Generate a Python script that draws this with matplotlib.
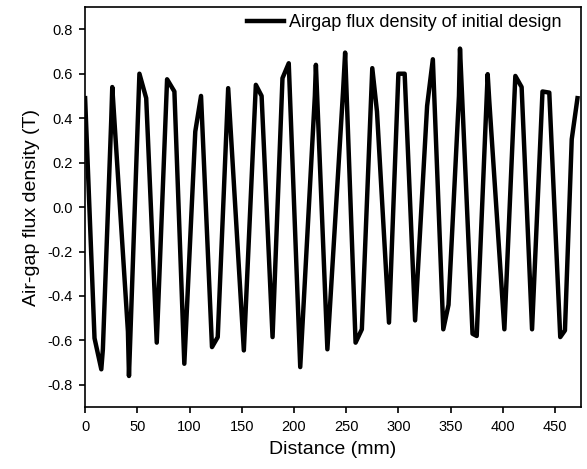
import numpy as np
import matplotlib
matplotlib.use("Agg")
import matplotlib.pyplot as plt

plt.rcParams['font.family'] = ['Liberation Sans', 'DejaVu Sans']

# Airgap flux density
distance = [0, 9, 15.5, 17, 25, 26, 41, 42, 52, 58.5, 68.6, 78.5, 85.5, 95,
            105.5, 111, 121.5, 127, 137, 152, 163.5, 169, 179.5, 189, 195,
            206, 220, 221, 232, 247, 249, 259, 265, 275, 279.5, 291, 300,
            306, 316, 327.5, 333, 343, 348, 358, 359, 371, 375, 385.5, 387,
            401.5, 412, 418, 428, 438, 444.5, 455, 459.5, 466, 471.5]
flux = [0.49, -0.59, -0.73, -0.64, 0.39, 0.54, -0.56, -0.76, 0.60, 0.49,
        -0.61, 0.575, 0.52, -0.705, 0.34, 0.50, -0.63, -0.585, 0.535,
        -0.645, 0.55, 0.50, -0.585, 0.58, 0.647, -0.72, 0.50, 0.64, -0.64,
        0.52, 0.695, -0.61, -0.55, 0.625, 0.43, -0.52, 0.60, 0.60, -0.51,
        0.455, 0.665, -0.55, -0.44, 0.50, 0.713, -0.57, -0.58, 0.598, 0.48,
        -0.55, 0.59, 0.54, -0.55, 0.52, 0.515, -0.585, -0.555, 0.305, 0.49]
yticks = [-0.8, -0.6, -0.4, -0.2, 0.0, 0.2, 0.4, 0.6, 0.8]

fig = plt.figure(figsize=(5.87, 4.69), dpi=100)
ax = fig.add_axes([0.145, 0.132, 0.845, 0.853])

ax.plot(distance, flux, color='black', lw=3.2,
        label='Airgap flux density of initial design')

ax.set_xlim(0, 475)
ax.set_ylim(-0.9, 0.9)
ax.set_xticks(np.arange(0, 451, 50))
ax.set_yticks(yticks)
ax.set_yticklabels(['%.1f' % v for v in yticks])
ax.tick_params(direction='out', length=4.5, width=1.2, labelsize=10.5, pad=4.5)
for s in ax.spines.values():
    s.set_linewidth(1.2)

ax.set_xlabel('Distance (mm)', fontsize=14, labelpad=5)
ax.set_ylabel('Air-gap flux density (T)', fontsize=14, labelpad=5)

ax.legend(loc='upper right', frameon=False, fontsize=13, handlelength=2.0,
          handletextpad=0.3, bbox_to_anchor=(0.975, 1.0), borderaxespad=0.0)

fig.savefig('out.png', dpi=100)
